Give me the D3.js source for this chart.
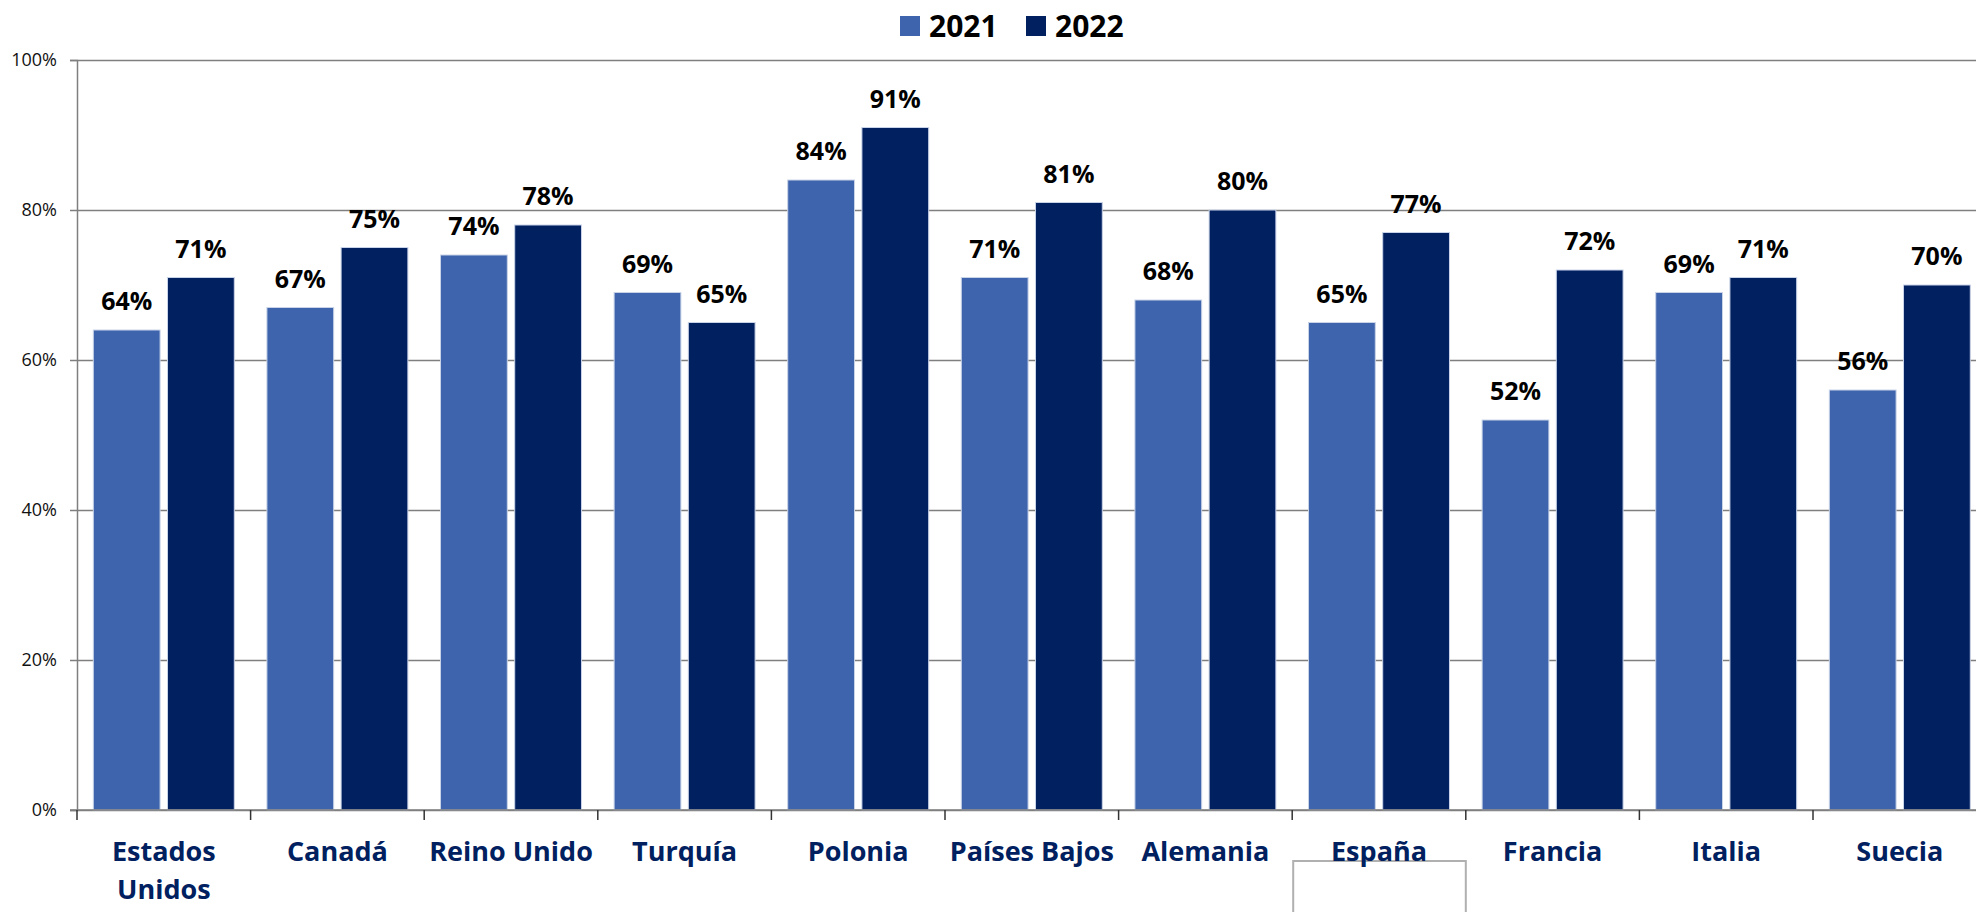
<!DOCTYPE html>
<html>
<head>
<meta charset="utf-8">
<script src="https://cdn.jsdelivr.net/npm/d3@7"></script>
<style>
    body { margin: 0; background: #fff; }
    svg { display: block; }
</style>
</head>
<body>
<svg id="chart"></svg>
<script>
"use strict";

// countries (x categories)
const countries = ["Estados Unidos", "Canadá", "Reino Unido", "Turquía", "Polonia", "Países Bajos",
    "Alemania", "España", "Francia", "Italia", "Suecia"];
const years = ["2021", "2022"];
// values in percent
const values2021 = [64, 67, 74, 69, 84, 71, 68, 65, 52, 69, 56];
const values2022 = [71, 75, 78, 65, 91, 81, 80, 77, 72, 71, 70];
const yTicks = [0, 0.2, 0.4, 0.6, 0.8, 1];

const colors = { "2021": "#3d64ac", "2022": "#002060" };

window.onload = function() {
    createBarChart();
};

function createBarChart() {
    const width = 1976;
    const height = 912;
    const marginTop = 60;
    const marginLeft = 77;
    const marginBottom = 102; // baseline at y=810
    const step = 173.6;

    const svg = d3.select("#chart")
        .attr("width", width)
        .attr("height", height)
        .attr("viewBox", [0, 0, width, height]);

    const rows = countries.map((c, i) => ({ country: c, "2021": values2021[i], "2022": values2022[i] }));

    // the plot goes a bit past the right edge of the picture
    const x = d3.scaleBand()
        .domain(countries)
        .range([marginLeft, marginLeft + step * countries.length])
        .padding(0);

    const xSub = d3.scaleBand()
        .domain(years)
        .range([0, x.bandwidth()])
        .paddingInner(0.1)
        .paddingOuter(0.22);

    const y = d3.scaleLinear()
        .domain([0, 1])
        .range([height - marginBottom, marginTop]);

    // gridlines + y axis
    svg.append("g")
        .attr("transform", `translate(${marginLeft},0)`)
        .call(d3.axisLeft(y).tickValues(yTicks).tickFormat(d3.format(".0%")).tickSize(7).tickPadding(13))
        .call(g => g.select(".domain").attr("stroke", "#7f7f7f").attr("stroke-width", 1.5))
        .call(g => g.selectAll(".tick line").attr("stroke", "#7f7f7f").attr("stroke-width", 1.5))
        .call(g => g.selectAll(".tick line")
            .clone()
            .attr("x1", 0)
            .attr("x2", width - marginLeft))
        .call(g => g.selectAll(".tick text")
            .attr("font-family", "Open Sans")
            .style("font-size", "18px")
            .attr("fill", "#111"));

    // bars
    const groups = svg.append("g")
        .selectAll("g")
        .data(rows)
        .join("g")
        .attr("transform", d => `translate(${x(d.country)},0)`);

    groups.selectAll("rect")
        .data(d => years.map(k => ({ key: k, value: d[k] })))
        .join("rect")
        .attr("x", d => xSub(d.key))
        .attr("y", d => y(d.value / 100))
        .attr("width", xSub.bandwidth())
        .attr("height", d => y(0) - y(d.value / 100))
        .attr("fill", d => colors[d.key])
        .attr("stroke", "#c9d3e8")
        .attr("stroke-width", 1);

    // value labels
    groups.selectAll("text")
        .data(d => years.map(k => ({ key: k, value: d[k] })))
        .join("text")
        .attr("x", d => xSub(d.key) + xSub.bandwidth() / 2)
        .attr("y", d => y(d.value / 100) - 20)
        .attr("text-anchor", "middle")
        .attr("font-family", "Open Sans")
        .style("font-size", "25px")
        .style("font-weight", "bold")
        .attr("fill", "#000")
        .text(d => d.value + "%");

    // x axis line and category ticks
    const base = y(0);
    svg.append("line")
        .attr("x1", marginLeft - 7)
        .attr("x2", width)
        .attr("y1", base)
        .attr("y2", base)
        .attr("stroke", "#7f7f7f")
        .attr("stroke-width", 1.5);

    svg.append("g")
        .selectAll("line")
        .data(countries)
        .join("line")
        .attr("x1", d => x(d))
        .attr("x2", d => x(d))
        .attr("y1", base)
        .attr("y2", base + 10)
        .attr("stroke", "#333")
        .attr("stroke-width", 1.5);

    // stray empty box under España
    svg.append("rect")
        .attr("x", x("España") + 1)
        .attr("y", base + 51)
        .attr("width", x.bandwidth() - 1)
        .attr("height", 70)
        .attr("fill", "#fff")
        .attr("stroke", "#b0b0b0")
        .attr("stroke-width", 2);

    // category labels (wrap when too wide)
    const labels = svg.append("g")
        .selectAll("text")
        .data(countries)
        .join("text")
        .attr("x", d => x(d) + x.bandwidth() / 2)
        .attr("y", base + 51)
        .attr("text-anchor", "middle")
        .attr("font-family", "Open Sans")
        .style("font-size", "27px")
        .style("font-weight", "bold")
        .attr("fill", "#002060")
        .text(d => d);

    labels.each(function(d) {
        const t = d3.select(this);
        if (this.getComputedTextLength() > x.bandwidth() + 10) {
            const words = d.split(" ");
            t.text(null);
            words.forEach((w, i) => {
                t.append("tspan")
                    .attr("x", x(d) + x.bandwidth() / 2)
                    .attr("dy", i === 0 ? 0 : 38)
                    .text(w);
            });
        }
    });

    // legend
    const legendX = [900, 1026];
    const legend = svg.append("g");
    years.forEach((k, i) => {
        legend.append("rect")
            .attr("x", legendX[i])
            .attr("y", 16)
            .attr("width", 20)
            .attr("height", 20)
            .attr("fill", colors[k]);
        legend.append("text")
            .attr("x", legendX[i] + 29)
            .attr("y", 37)
            .attr("font-family", "Open Sans")
            .style("font-size", "30px")
            .style("font-weight", "bold")
            .attr("fill", "#000")
            .text(k);
    });
}
</script>
</body>
</html>
